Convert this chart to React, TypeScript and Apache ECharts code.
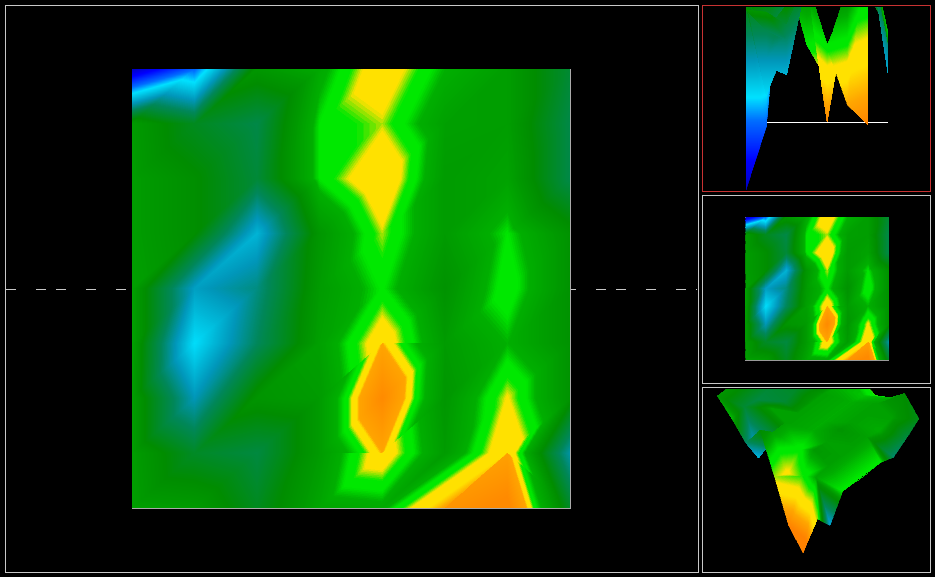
import React, { useEffect, useRef } from "react";
import * as echarts from "echarts";

// Top-view field on 8 columns x 9 rows. Below zero: blue side; above: orange side.
const row0 = [-190, -125, 10, 25, 58, 30, 16, -20];
const row1 = [14, -12, -28, 36, 46, 18, 16, -28];
const row2 = [16, 2, -22, 36, 62, 14, 20, -28];
const row3 = [16, 2, -75, 10, 46, 14, 36, 6];
const row4 = [18, -65, -45, 14, 37, 6, 42, 6];
const row5 = [18, -95, -35, 18, 58, 14, 30, 6];
const row6 = [16, -60, 8, 14, 84, 10, 49, 6];
const row7 = [16, -15, -25, 14, 58, 14, 62, -55];
const row8 = [18, 14, -12, 22, 26, 74, 90, -15];
const field = [row0, row1, row2, row3, row4, row5, row6, row7, row8];

// Heights in the side view (pixels down from the panel's top; negative = above it).
const height0 = [190, 127, -100, -22, 80, 21, -9, 33];
const height1 = [0, -10, -100, 45, 60, 0, -20, 40];
const height2 = [0, 0, -30, -20, 86, 0, -30, 40];
const height3 = [0, 0, 75, -20, 70, 5, 45, 33];
const height4 = [5, 65, 45, -20, 45, 0, 48, 33];
const height5 = [5, 95, 35, -20, 85, 5, 46, 33];
const height6 = [0, 60, 5, -17, 122, -12, 70, 33];
const height7 = [0, 30, 40, -20, 85, -12, -59, 73];
const height8 = [10, 12, 25, -20, 48, 105, 125, 47];
const sideHeights = [height0, height1, height2, height3, height4, height5, height6, height7, height8];

// Heights in the oblique view.
const view0 = [20, 20, 30, 40, 41, 21, -9, 9];
const view1 = [15, 20, 35, 20, 25, 15, 15, 25];
const view2 = [15, 15, 35, 20, 20, 15, 20, 40];
const view3 = [15, 15, 20, 15, 20, 15, 15, 33];
const view4 = [10, 20, 15, 15, 20, 10, 15, 33];
const view5 = [10, 20, 20, 15, 20, 15, 15, 33];
const view6 = [10, 25, 15, 15, 35, 12, 15, 33];
const view7 = [10, 20, 80, 15, 58, 40, 18, 73];
const view8 = [10, 23, 40, -4, 48, 105, 125, 47];
const viewHeights = [view0, view1, view2, view3, view4, view5, view6, view7, view8];

const dashStartsLeft = [6, 36, 56, 86, 116];
const dashStartsRight = [566, 596, 616, 646, 676, 696];

const coldValues = [-190, -160, -120, -97, -60, -35];
const coldColors = [[0, 0, 190], [0, 0, 255], [0, 110, 255], [0, 225, 255], [0, 150, 185], [0, 135, 90]];
const wideValues = [0, 14, 30, 36, 42, 48, 62, 72, 90];
const narrowValues = [0, 14, 34, 42, 46, 50, 56, 58, 84];
const hotColors = [[0, 140, 0], [0, 155, 0], [0, 175, 0], [0, 232, 0], [0, 232, 0], [255, 225, 0], [255, 225, 0], [255, 165, 0], [255, 138, 0]];
const sideValues = [0, 10, 25, 45, 52, 66, 84, 105, 125];
const viewValues = [0, 10, 20, 32, 38, 55, 68, 85, 105];
const sideColors = [[0, 140, 0], [0, 148, 0], [0, 172, 0], [0, 232, 0], [0, 232, 0], [255, 225, 0], [255, 225, 0], [255, 165, 0], [255, 130, 0]];
const narrowFrom = 80;

type Ramp = { values: number[]; colors: number[][] };
const wideRamp: Ramp = { values: [...coldValues, ...wideValues], colors: [...coldColors, ...hotColors] };
const narrowRamp: Ramp = { values: [...coldValues, ...narrowValues], colors: [...coldColors, ...hotColors] };
const sideRamp: Ramp = { values: [...coldValues, ...sideValues], colors: [...coldColors, ...sideColors] };
const viewRamp: Ramp = { values: [...coldValues, ...viewValues], colors: [...coldColors, ...sideColors] };

function colorOf(ramp: Ramp, v: number) {
  const { values, colors } = ramp;
  let i = 0;
  while (i < values.length - 2 && v > values[i + 1]) i++;
  const t = Math.max(0, Math.min(1, (v - values[i]) / (values[i + 1] - values[i])));
  const a = colors[i], b = colors[i + 1];
  return `rgb(${a.map((x, k) => Math.round(x + (b[k] - x) * t)).join(",")})`;
}

type P = number[]; // column, row, field, side height, signed side, view height, signed view
const FIELD = 2, SIDE = 3, SIDE_SIGNED = 4, VIEW = 5, VIEW_SIGNED = 6;
function clip(poly: P[], idx: number, level: number, above: boolean) {
  const out: P[] = [];
  const inside = (p: P) => (above ? p[idx] >= level : p[idx] <= level);
  for (let i = 0; i < poly.length; i++) {
    const a = poly[i], b = poly[(i + 1) % poly.length];
    if (inside(a)) out.push(a);
    if (inside(a) !== inside(b)) {
      const t = (level - a[idx]) / (b[idx] - a[idx]);
      out.push(a.map((x, k) => x + (b[k] - x) * t));
    }
  }
  return out;
}
const vertex = (c: number, r: number): P => {
  const f = field[r][c], h = sideHeights[r][c], z = viewHeights[r][c];
  const s = f < 0 ? -1 : 1;
  // the near corner reads warm in the oblique view although its top-view colour is on the cold side
  const sv = c === 7 && r === 8 ? 1 : s;
  return [c, r, f, h, s * Math.max(h, 0), z, sv * Math.max(z, 0)];
};
const triangles: P[][] = [];
for (let r = 0; r < 8; r++) {
  for (let c = 0; c < 7; c++) {
    if (c === 6 && r === 7) {
      // this last cell is split along its other diagonal
      triangles.push([vertex(c, r), vertex(c + 1, r), vertex(c + 1, r + 1)]);
      triangles.push([vertex(c, r), vertex(c + 1, r + 1), vertex(c, r + 1)]);
    } else {
      triangles.push([vertex(c, r), vertex(c + 1, r), vertex(c, r + 1)]);
      triangles.push([vertex(c + 1, r), vertex(c + 1, r + 1), vertex(c, r + 1)]);
    }
  }
}
function bandsOf(tri: P[], idx: number, ramp: Ramp) {
  const vs = tri.map((p) => p[idx]);
  const lo = Math.floor(Math.min(...vs)), hi = Math.floor(Math.max(...vs));
  const res: { poly: P[]; color: string }[] = [];
  for (let k = lo; k <= hi; k++) {
    const poly = clip(clip(tri, idx, k, true), idx, k + 1, false);
    if (poly.length >= 3) res.push({ poly, color: colorOf(ramp, k + 0.5) });
  }
  return res;
}
const topRamp = (tri: P[]) => (Math.max(...tri.map((p) => p[FIELD])) >= narrowFrom ? narrowRamp : wideRamp);

function project3d(p: P) {
  const back = 8 - p[1];
  return [717.3 + 14.3 * p[0] + 12.7 * back, 396 + 14.3 * p[0] - 9.57 * back + 0.617 * (p[VIEW] - 10)];
}
// In the side view the wedge between the two last columns stays open where a column-6 vertex hangs low.
const sideVisible = (tri: P[]) => !(tri.some((p) => p[0] === 7) && tri.some((p) => p[0] === 6 && p[SIDE] > 0));

function surfaceSeries(gridIndex: number, toAxis: (p: P) => number[], idx: number, rampOf: (t: P[]) => Ramp, show: (t: P[]) => boolean = () => true) {
  return {
    type: "custom",
    xAxisIndex: gridIndex,
    yAxisIndex: gridIndex,
    coordinateSystem: "cartesian2d",
    clip: true,
    silent: true,
    data: triangles.map((_, i) => [i]),
    encode: { x: [], y: [] },
    renderItem: (_: any, api: any) => {
      const tri = triangles[api.value(0)];
      if (!show(tri)) return { type: "group", children: [] };
      return {
        type: "group",
        children: bandsOf(tri, idx, rampOf(tri)).map(({ poly, color }) => ({
          type: "polygon",
          shape: { points: poly.map((p) => api.coord(toAxis(p))) },
          style: { fill: color, stroke: color, lineWidth: 0.5 },
        })),
      };
    },
  };
}
const box = (x: number, y: number, w: number, h: number, stroke: string) => ({
  type: "rect",
  shape: { x: x + 0.5, y: y + 0.5, width: w, height: h },
  style: { fill: "none", stroke, lineWidth: 1 },
  silent: true,
});
const seg = (x1: number, y1: number, x2: number, y2: number, stroke: string) => ({
  type: "line",
  shape: { x1, y1, x2, y2 },
  style: { stroke, lineWidth: 1 },
  silent: true,
});
const grids = [
  { left: 132, top: 69, width: 438, height: 439 },
  { left: 745.5, top: 217, width: 143, height: 143 },
  { left: 746, top: 7, width: 142, height: 184 },
  { left: 703, top: 389, width: 227, height: 183 },
];
const ax = (gridIndex: number, min: number, max: number, inverse = false) => ({
  type: "value", gridIndex, min, max, inverse, show: false, scale: true,
});

export default function App() {
  const ref = useRef<HTMLDivElement>(null);
  useEffect(() => {
    const chart = echarts.init(ref.current!, undefined, { renderer: "svg" });
    chart.setOption({
      animation: false,
      backgroundColor: "#000",
      grid: grids,
      xAxis: [ax(0, 0, 7), ax(1, 0, 7), ax(2, 0, 7), ax(3, 703, 930)],
      yAxis: [ax(0, 0, 8, true), ax(1, 0, 8, true), ax(2, 7, 191, true), ax(3, 389, 572, true)],
      series: [
        surfaceSeries(0, (p) => [p[0], p[1]], FIELD, topRamp),
        surfaceSeries(1, (p) => [p[0], p[1]], FIELD, topRamp),
        surfaceSeries(2, (p) => [p[0], p[SIDE]], SIDE_SIGNED, () => sideRamp, sideVisible),
        surfaceSeries(3, project3d, VIEW_SIGNED, () => viewRamp),
      ],
      graphic: [
        box(5, 5, 693, 567, "#c8c8c8"),
        box(702, 5, 228, 186, "#c83232"),
        box(702, 195, 228, 188, "#c8c8c8"),
        box(702, 387, 228, 185, "#c8c8c8"),
        seg(132, 69.5, 571, 69.5, "#ffffff"),
        seg(132.5, 69, 132.5, 90, "#ffffff"),
        seg(570.5, 69, 570.5, 509, "#aaaaaa"),
        seg(132, 508.5, 571, 508.5, "#aaaaaa"),
        seg(745, 217.5, 889, 217.5, "#aaaaaa"),
        seg(888.5, 217, 888.5, 361, "#999999"),
        seg(745, 360.5, 889, 360.5, "#999999"),
        seg(746, 122.5, 888, 122.5, "#ffffff"),
        ...dashStartsLeft.map((x) => seg(x, 289.5, x + 10, 289.5, "#c8c8c8")),
        ...dashStartsRight.map((x) => seg(Math.max(x, 571), 289.5, Math.min(x + 10, 697), 289.5, "#c8c8c8")),
      ],
    });
    ref.current!.querySelector("svg")?.setAttribute("shape-rendering", "crispEdges");
    return () => chart.dispose();
  }, []);
  return <div ref={ref} style={{ position: "fixed", left: 0, top: 0, width: 935, height: 577, background: "#000" }} />;
}
